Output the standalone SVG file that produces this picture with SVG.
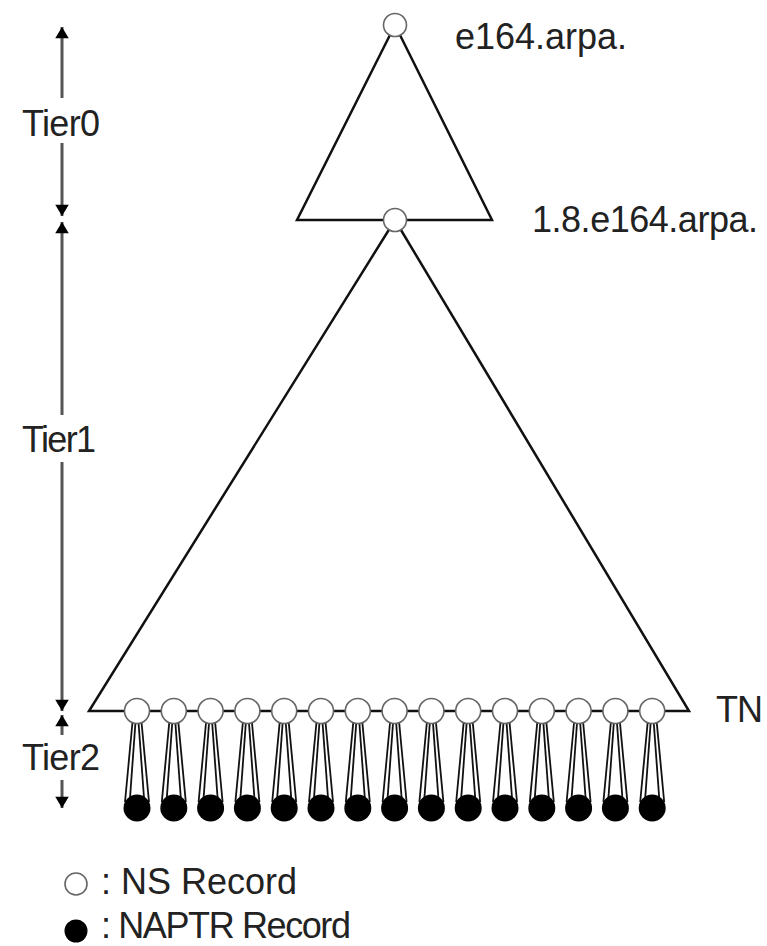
<svg xmlns="http://www.w3.org/2000/svg" xmlns:xlink="http://www.w3.org/1999/xlink" width="767" height="946" viewBox="0 0 767 946">
<style>
.lbl{font-family:"Liberation Sans",Arial,sans-serif;font-size:36px;fill:#222}
.tri{fill:none;stroke:#111;stroke-width:2.5;stroke-linejoin:miter}
.ns{fill:#fff;stroke:#666;stroke-width:1.6}
.naptr{fill:#000}
.taper{stroke:#111;stroke-width:1.8;fill:none}
.tier{stroke:#555;stroke-width:3}
</style>
<defs>
<marker id="ah" viewBox="0 0 10 12" refX="10" refY="6" markerWidth="4.5" markerHeight="4.5" markerUnits="strokeWidth" orient="auto">
<path d="M0,0 L10,6 L0,12 z" fill="#000"/>
</marker>
<g id="leaf">
<line class="taper" x1="-4.5" y1="722" x2="-12" y2="802"/>
<line class="taper" x1="4.5" y1="722" x2="12" y2="802"/>
<line class="taper" x1="-1.5" y1="722" x2="-7" y2="798"/>
<line class="taper" x1="1.5" y1="722" x2="7" y2="798"/>
<circle class="naptr" cx="0" cy="808" r="13.5"/>
<circle class="ns" cx="0" cy="711" r="12.5"/>
</g>
</defs>
<rect width="767" height="946" fill="#fff"/>
<g id="connectors">
<polygon class="tri" points="395,25 297,220 492,220"/>
<polygon class="tri" points="395,220 89,711 689,711"/>
</g>
<g id="tiers">
<line class="tier" x1="62" y1="98" x2="62" y2="27" marker-end="url(#ah)"/>
<line class="tier" x1="62" y1="143" x2="62" y2="216" marker-end="url(#ah)"/>
<line class="tier" x1="62" y1="415" x2="62" y2="222" marker-end="url(#ah)"/>
<line class="tier" x1="62" y1="462" x2="62" y2="711" marker-end="url(#ah)"/>
<line class="tier" x1="62" y1="735" x2="62" y2="715" marker-end="url(#ah)"/>
<line class="tier" x1="62" y1="780" x2="62" y2="808" marker-end="url(#ah)"/>
<text class="lbl" x="22" y="136" textLength="78">Tier0</text>
<text class="lbl" x="22" y="452" textLength="74">Tier1</text>
<text class="lbl" x="22" y="770" textLength="78">Tier2</text>
</g>
<g id="root">
<circle class="ns" cx="395" cy="25" r="11.5"/>
<text class="lbl" x="455" y="49" textLength="172">e164.arpa.</text>
</g>
<g id="cc">
<circle class="ns" cx="395" cy="220" r="11.5"/>
<text class="lbl" x="532" y="232" textLength="226">1.8.e164.arpa.</text>
</g>
<g id="tn">
<use xlink:href="#leaf" x="137"/>
<use xlink:href="#leaf" x="173.8"/>
<use xlink:href="#leaf" x="210.6"/>
<use xlink:href="#leaf" x="247.4"/>
<use xlink:href="#leaf" x="284.2"/>
<use xlink:href="#leaf" x="321"/>
<use xlink:href="#leaf" x="357.8"/>
<use xlink:href="#leaf" x="394.6"/>
<use xlink:href="#leaf" x="431.4"/>
<use xlink:href="#leaf" x="468.2"/>
<use xlink:href="#leaf" x="505"/>
<use xlink:href="#leaf" x="541.8"/>
<use xlink:href="#leaf" x="578.6"/>
<use xlink:href="#leaf" x="615.4"/>
<use xlink:href="#leaf" x="652.2"/>
<text class="lbl" x="716" y="722" textLength="47">TN</text>
</g>
<g id="legend">
<circle class="ns" cx="76" cy="884" r="11"/>
<text class="lbl" x="101" y="894" textLength="196">: NS Record</text>
<circle class="naptr" cx="76" cy="931" r="11.5"/>
<text class="lbl" x="101" y="938" textLength="250">: NAPTR Record</text>
</g>
</svg>
